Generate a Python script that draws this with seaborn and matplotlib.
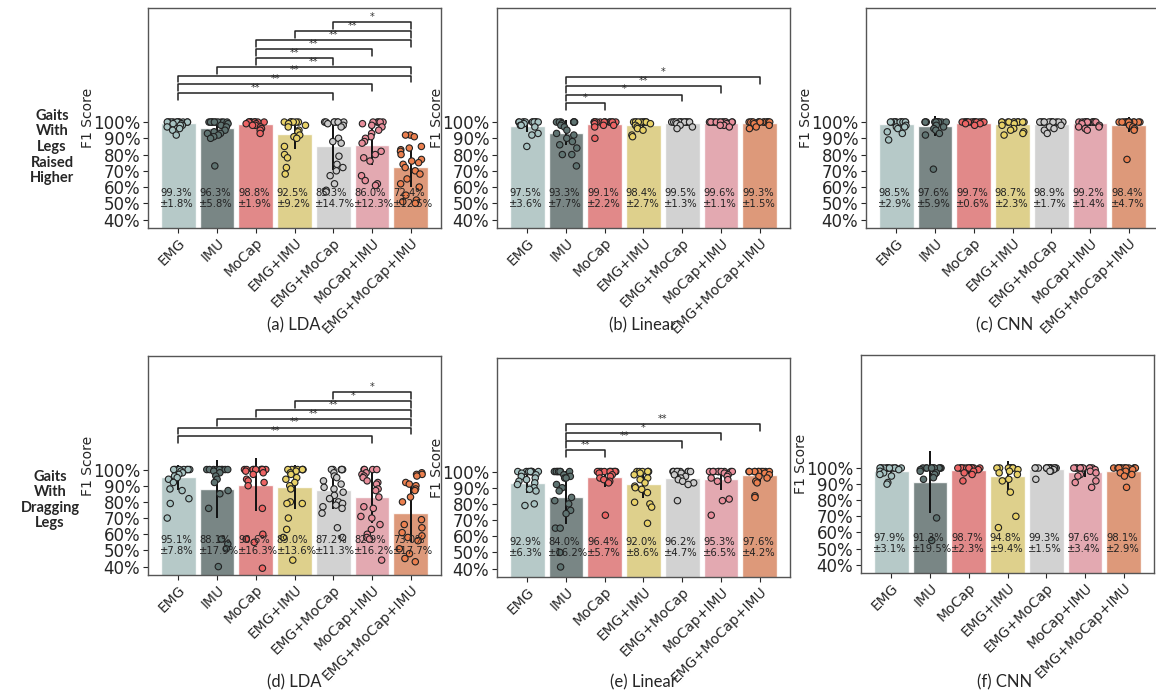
import numpy as np
import pandas as pd
import seaborn as sns
import matplotlib.pyplot as plt
from matplotlib.ticker import FuncFormatter

modalities = ['EMG', 'IMU', 'MoCap', 'EMG+IMU', 'EMG+MoCap', 'MoCap+IMU', 'EMG+MoCap+IMU']

# per-subject F1 scores (%)
raised_lda_pts = [
    [100, 100, 100, 100, 100, 100, 100, 100, 100, 100, 100, 100, 99, 99, 98, 98, 97, 96, 95, 92],
    [100, 100, 100, 100, 100, 100, 100, 100, 100, 100, 99, 98, 97, 95, 94, 93, 93, 92, 91, 90, 73],
    [100, 100, 100, 100, 100, 100, 100, 100, 100, 100, 100, 99, 99, 98, 98, 97, 96, 95, 93],
    [100, 100, 100, 100, 100, 100, 100, 99, 98, 97, 95, 94, 92, 91, 90, 85, 80, 78, 72, 68],
    [100, 100, 100, 100, 100, 100, 100, 99, 98, 97, 90, 88, 87, 79, 74, 72, 70, 67, 62, 58, 57],
    [100, 100, 100, 100, 100, 99, 98, 97, 95, 93, 91, 90, 88, 87, 82, 80, 78, 76, 67, 64, 62, 61],
    [92, 92, 91, 85, 84, 83, 82, 80, 77, 76, 75, 74, 72, 70, 68, 65, 62, 60, 55, 52, 51, 50],
]
raised_linear_pts = [
    [100, 100, 100, 100, 100, 100, 100, 100, 100, 100, 100, 100, 99, 98, 98, 97, 93, 92, 85],
    [100, 100, 100, 100, 100, 100, 100, 99, 98, 97, 95, 93, 92, 90, 88, 86, 84, 80, 80, 73],
    [100, 100, 100, 100, 100, 100, 100, 100, 100, 100, 100, 100, 100, 99, 98, 98, 97, 90],
    [100, 100, 100, 100, 100, 100, 100, 100, 100, 100, 100, 99, 98, 97, 96, 95, 92, 91],
    [100, 100, 100, 100, 100, 100, 100, 100, 100, 100, 100, 100, 100, 100, 99, 98, 97, 96],
    [100, 100, 100, 100, 100, 100, 100, 100, 100, 100, 100, 100, 100, 100, 99, 98, 98, 97],
    [100, 100, 100, 100, 100, 100, 100, 100, 100, 100, 100, 100, 100, 100, 99, 98, 97, 96],
]
raised_cnn_pts = [
    [100, 100, 100, 100, 100, 100, 100, 100, 100, 100, 100, 100, 98, 97, 97, 96, 94, 93, 89],
    [100, 100, 100, 100, 100, 100, 100, 100, 100, 100, 100, 100, 100, 98, 97, 96, 95, 93, 92, 71],
    [100, 100, 100, 100, 100, 100, 100, 100, 100, 100, 100, 100, 100, 100, 100, 100, 99, 99, 98],
    [100, 100, 100, 100, 100, 100, 100, 100, 100, 100, 100, 99, 98, 96, 95, 94, 93, 92],
    [100, 100, 100, 100, 100, 100, 100, 100, 100, 100, 100, 100, 100, 98, 97, 96, 95, 93],
    [100, 100, 100, 100, 100, 100, 100, 100, 100, 100, 100, 100, 99, 98, 97, 97, 96, 95],
    [100, 100, 100, 100, 100, 100, 100, 100, 100, 100, 100, 100, 100, 100, 98, 97, 96, 95, 77],
]
drag_lda_pts = [
    [100, 100, 100, 100, 100, 100, 100, 100, 99, 98, 97, 96, 95, 94, 92, 88, 87, 82, 79, 70],
    [100, 100, 100, 100, 100, 100, 100, 100, 100, 99, 98, 96, 94, 92, 87, 85, 76, 57, 54, 51, 40],
    [100, 100, 100, 100, 100, 100, 100, 100, 100, 100, 99, 98, 97, 94, 93, 92, 90, 76, 60, 57, 55, 39],
    [100, 100, 100, 100, 100, 100, 100, 99, 98, 97, 95, 94, 92, 90, 88, 80, 79, 79, 70, 63, 58, 44],
    [100, 100, 100, 100, 100, 98, 96, 95, 93, 91, 89, 88, 86, 84, 82, 80, 79, 78, 77, 76, 73, 64, 58],
    [100, 100, 100, 100, 98, 97, 96, 95, 93, 92, 91, 88, 87, 83, 77, 76, 71, 70, 66, 63, 60, 58, 57, 44],
    [98, 97, 97, 96, 92, 91, 90, 88, 87, 83, 80, 69, 66, 64, 61, 59, 58, 56, 51, 48, 45, 43],
]
drag_linear_pts = [
    [100, 100, 100, 100, 100, 100, 100, 100, 99, 98, 97, 96, 95, 94, 93, 92, 90, 89, 88, 80, 79],
    [100, 100, 100, 100, 100, 100, 100, 98, 97, 96, 96, 92, 90, 88, 84, 82, 80, 76, 74, 65, 65, 50, 41],
    [100, 100, 100, 100, 100, 100, 100, 100, 100, 100, 99, 98, 97, 96, 95, 94, 93, 73],
    [100, 100, 100, 100, 100, 100, 99, 98, 96, 95, 93, 91, 90, 89, 87, 81, 80, 78, 68],
    [100, 100, 100, 100, 100, 100, 100, 100, 100, 99, 98, 97, 96, 95, 94, 93, 92, 82],
    [100, 100, 100, 100, 100, 100, 100, 100, 100, 99, 98, 97, 96, 95, 94, 83, 82, 73],
    [100, 100, 100, 100, 100, 100, 100, 100, 100, 100, 99, 98, 97, 96, 94, 93, 85, 84],
]
drag_cnn_pts = [
    [100, 100, 100, 100, 100, 100, 100, 100, 100, 100, 100, 100, 99, 98, 97, 96, 95, 91, 90],
    [100, 100, 100, 100, 100, 100, 100, 100, 100, 100, 99, 98, 97, 96, 94, 93, 69, 55],
    [100, 100, 100, 100, 100, 100, 100, 100, 100, 100, 100, 100, 100, 99, 98, 97, 96, 92],
    [100, 100, 100, 100, 100, 100, 100, 100, 100, 99, 98, 97, 96, 93, 92, 85, 70, 63],
    [100, 100, 100, 100, 100, 100, 100, 100, 100, 100, 100, 100, 100, 100, 100, 99, 98, 98, 93],
    [100, 100, 100, 100, 100, 100, 100, 100, 100, 100, 100, 99, 98, 97, 96, 95, 92, 91, 88],
    [100, 100, 100, 100, 100, 100, 100, 100, 100, 100, 100, 100, 100, 99, 98, 97, 96, 95, 88],
]

# reported mean / std (%)
raised_lda_mean = [99.3, 96.3, 98.8, 92.5, 85.3, 86.0, 72.4]
raised_lda_std = [1.8, 5.8, 1.9, 9.2, 14.7, 12.3, 12.5]
raised_linear_mean = [97.5, 93.3, 99.1, 98.4, 99.5, 99.6, 99.3]
raised_linear_std = [3.6, 7.7, 2.2, 2.7, 1.3, 1.1, 1.5]
raised_cnn_mean = [98.5, 97.6, 99.7, 98.7, 98.9, 99.2, 98.4]
raised_cnn_std = [2.9, 5.9, 0.6, 2.3, 1.7, 1.4, 4.7]
drag_lda_mean = [95.1, 88.1, 90.6, 89.0, 87.2, 82.9, 73.0]
drag_lda_std = [7.8, 17.9, 16.3, 13.6, 11.3, 16.2, 17.7]
drag_linear_mean = [92.9, 84.0, 96.4, 92.0, 96.2, 95.3, 97.6]
drag_linear_std = [6.3, 16.2, 5.7, 8.6, 4.7, 6.5, 4.2]
drag_cnn_mean = [97.9, 91.3, 98.7, 94.8, 99.3, 97.6, 98.1]
drag_cnn_std = [3.1, 19.5, 2.3, 9.4, 1.5, 3.4, 2.9]

# significance brackets (index pairs, stars)
raised_lda_sig = [(0, 4, '**'), (0, 5, '**'), (0, 6, '**'), (1, 6, '**'), (2, 4, '**'),
                  (2, 5, '**'), (2, 6, '**'), (3, 6, '**'), (4, 6, '*')]
raised_linear_sig = [(1, 2, '*'), (1, 4, '*'), (1, 5, '**'), (1, 6, '*')]
drag_lda_sig = [(0, 5, '**'), (0, 6, '**'), (1, 6, '**'), (2, 6, '**'), (3, 6, '*'), (4, 6, '*')]
drag_linear_sig = [(1, 2, '**'), (1, 4, '**'), (1, 5, '*'), (1, 6, '**')]

bar_colors = ['#a7c3c2', '#5f7472', '#ed6464', '#e9d268', '#cbcbcb', '#e98f9c', '#ec804f']

sns.set_style('white')
plt.rcParams['font.family'] = 'DejaVu Sans'
np.random.seed(3)

W, H = 1156, 696
fig = plt.figure(figsize=(W / 100, H / 100), dpi=100)


def add_ax(left, top, right, bottom):
    return fig.add_axes([left / W, 1 - bottom / H, (right - left) / W, (bottom - top) / H])


def draw_panel(ax, pts, means, stds, sig=None, sig_base=115, sig_step=5.4):
    bars = pd.DataFrame({'modality': modalities, 'mean': means})
    sns.barplot(data=bars, x='modality', y='mean', hue='modality', order=modalities,
                palette=bar_colors, alpha=0.85, width=0.9, errorbar=None,
                legend=False, ax=ax, zorder=1)
    ax.errorbar(range(len(modalities)), means, yerr=stds, fmt='none',
                ecolor='#111111', elinewidth=1.4, capsize=0, zorder=2)
    rows = [(m, v) for m, vals in zip(modalities, pts) for v in vals]
    df = pd.DataFrame(rows, columns=['modality', 'f1'])
    sns.stripplot(data=df, x='modality', y='f1', hue='modality', order=modalities,
                  palette=bar_colors, jitter=0.3, size=4.6, linewidth=0.8,
                  edgecolor='#222222', legend=False, ax=ax, zorder=3)
    for i, (m, s) in enumerate(zip(means, stds)):
        ax.text(i - 0.46, 53, f'{m:.1f}%\n±{s:.1f}%', fontsize=7.2, color='#222222',
                ha='left', va='center', linespacing=1.2, zorder=4)
    if sig:
        for k, (a, b, star) in enumerate(sig):
            y = sig_base + k * sig_step
            ax.plot([a, a, b, b], [y - 4.2, y, y, y - 4.2], color='#222222', lw=1.1, zorder=4)
            ax.text((a + b) / 2, y + 0.1, star, ha='center', va='bottom', fontsize=7,
                    color='#333333')
    ax.set_xlim(-0.78, 6.78)
    ax.set_ylim(34.8, 170.2)
    ax.set_yticks([40, 50, 60, 70, 80, 90, 100])
    ax.yaxis.set_major_formatter(FuncFormatter(lambda v, p: f'{v:.0f}%'))
    ax.tick_params(axis='y', labelsize=12, length=3.5, width=0.8, left=True, pad=2)
    ax.tick_params(axis='x', labelsize=10, length=3.5, width=0.8, bottom=True, pad=2)
    plt.setp(ax.get_xticklabels(), rotation=45, ha='right', rotation_mode='anchor')
    ax.set_xlabel('')
    ax.set_ylabel('F1 Score', fontsize=10)
    ax.yaxis.set_label_coords(-0.182, 0.5)
    for sp in ax.spines.values():
        sp.set_color('#555555')
        sp.set_linewidth(1.0)


ax_a = add_ax(148, 8, 441, 228)
ax_b = add_ax(497, 8, 790, 228)
ax_c = add_ax(866, 8, 1159, 228)
ax_d = add_ax(148, 356, 441, 575)
ax_e = add_ax(497, 358, 790, 577)
ax_f = add_ax(861, 355, 1154, 573)

draw_panel(ax_a, raised_lda_pts, raised_lda_mean, raised_lda_std, raised_lda_sig, 117.7, 5.45)
draw_panel(ax_b, raised_linear_pts, raised_linear_mean, raised_linear_std, raised_linear_sig, 111.6, 5.3)
draw_panel(ax_c, raised_cnn_pts, raised_cnn_mean, raised_cnn_std)
draw_panel(ax_d, drag_lda_pts, drag_lda_mean, drag_lda_std, drag_lda_sig, 120.5, 5.45)
draw_panel(ax_e, drag_linear_pts, drag_linear_mean, drag_linear_std, drag_linear_sig, 113.3, 5.3)
draw_panel(ax_f, drag_cnn_pts, drag_cnn_mean, drag_cnn_std)

captions = ['(a) LDA', '(b) Linear', '(c) CNN', '(d) LDA', '(e) Linear', '(f) CNN']
cap_pos = [(294, 325), (643, 325), (1005, 325), (294, 682), (643, 682), (1005, 682)]
for txt, (x, y) in zip(captions, cap_pos):
    fig.text(x / W, 1 - y / H, txt, ha='center', va='center', fontsize=12, family='Lato')

fig.text(52 / W, 1 - 147 / H, 'Gaits\nWith\nLegs\nRaised\nHigher', ha='center', va='center',
         fontsize=10.5, fontweight='bold', family='Lato', linespacing=1.15)
fig.text(50 / W, 1 - 500 / H, 'Gaits\nWith\nDragging\nLegs', ha='center', va='center',
         fontsize=10.5, fontweight='bold', family='Lato', linespacing=1.15)

fig.savefig('out.png', dpi=100)
